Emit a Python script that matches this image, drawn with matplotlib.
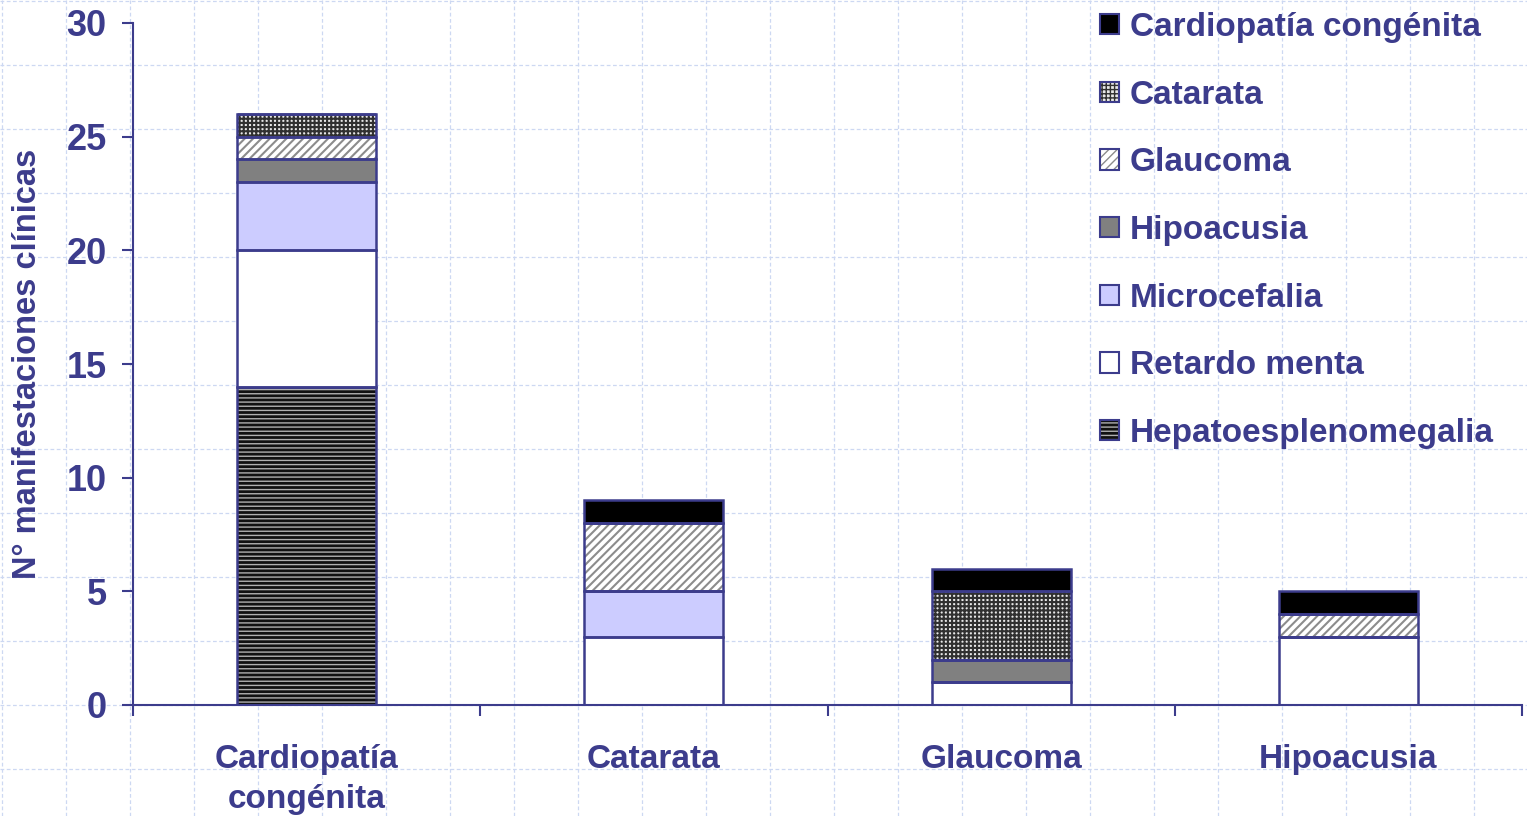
import numpy as np
import matplotlib
matplotlib.use("Agg")
import matplotlib.pyplot as plt
from matplotlib.legend_handler import HandlerTuple

# Data: each bar is a clinical manifestation, stacked by associated manifestations
categories = ["Cardiopatía\ncongénita", "Catarata", "Glaucoma", "Hipoacusia"]
series_names = ["Hepatoesplenomegalia", "Retardo menta", "Microcefalia",
                "Hipoacusia", "Glaucoma", "Catarata", "Cardiopatía congénita"]
hepatoesplenomegalia = [14, 0, 0, 0]
retardo_menta = [6, 3, 1, 3]
microcefalia = [3, 2, 0, 0]
hipoacusia = [1, 0, 1, 0]
glaucoma = [1, 3, 0, 1]
catarata = [1, 0, 3, 0]
cardiopatia = [0, 1, 1, 1]
y_ticks = [0, 5, 10, 15, 20, 25, 30]

series_values = [hepatoesplenomegalia, retardo_menta, microcefalia,
                 hipoacusia, glaucoma, catarata, cardiopatia]

# (facecolor, hatch, hatch colour, hatch linewidth)
styles = [
    ("#111111", "----", "#b0b0b0", 1.0),
    ("#ffffff", None, None, 1.0),
    ("#ccccff", None, None, 1.0),
    ("#808080", None, None, 1.0),
    ("#ffffff", "////", "#8c8c8c", 1.5),
    ("#e8e8e8", "++++", "#303030", 1.5),
    ("#000000", None, None, 1.0),
]

navy = "#3c3c8c"
plt.rcParams['font.family'] = ['Liberation Sans', 'DejaVu Sans']
plt.rcParams['font.weight'] = 'bold'

W, H = 1527, 816
fig = plt.figure(figsize=(W / 100, H / 100), dpi=100)
fig.patch.set_facecolor("white")

# slide background grid
bg = fig.add_axes([0, 0, 1, 1], zorder=-1)
bg.set_xlim(0, W)
bg.set_ylim(H, 0)
bg.axis("off")
for gx in np.arange(2, W, 64):
    bg.axvline(gx, color="#cdd8f2", lw=0.9, ls=(0, (3, 2)))
for gy in np.arange(1, H, 64):
    bg.axhline(gy, color="#cdd8f2", lw=0.9, ls=(0, (3, 2)))

ax = fig.add_axes([133 / W, 1 - 705 / H, (1522 - 133) / W, (705 - 23) / H])
ax.set_facecolor("none")


def set_hlw(patch, lw):
    if hasattr(patch, "set_hatch_linewidth"):
        patch.set_hatch_linewidth(lw)


x = np.arange(len(categories))
width = 0.40
bottom = np.zeros(len(categories))
handles = []
for name, vals, (fc, hatch, hc, hlw) in zip(series_names, series_values, styles):
    vals = np.array(vals, dtype=float)
    with plt.rc_context({'hatch.linewidth': hlw}):
        if hatch:
            bars = ax.bar(x, vals, width, bottom=bottom, color=fc, hatch=hatch,
                          edgecolor=hc, linewidth=0, zorder=2)
            fill = plt.Rectangle((0, 0), 1, 1, facecolor=fc, hatch=hatch,
                                 edgecolor=hc, linewidth=0)
        else:
            bars = ax.bar(x, vals, width, bottom=bottom, color=fc, linewidth=0,
                          zorder=2)
            fill = plt.Rectangle((0, 0), 1, 1, facecolor=fc, linewidth=0)
    for p in list(bars) + [fill]:
        set_hlw(p, hlw)
    ax.bar(x, vals, width, bottom=bottom, fill=False, edgecolor=navy,
           linewidth=1.8, zorder=3)
    outline = plt.Rectangle((0, 0), 1, 1, fill=False, edgecolor=navy,
                            linewidth=1.5)
    handles.append(((fill, outline), name))
    bottom += vals

ax.set_xlim(-0.5, len(categories) - 0.5)
ax.set_ylim(0, 30)
ax.set_yticks(y_ticks)
ax.set_xticks(x)
ax.set_xticklabels(categories, fontsize=24, color=navy, fontweight='bold',
                   linespacing=1.36)
ax.set_xticks(np.arange(-0.5, len(categories)), minor=True)
ax.tick_params(axis='x', which='major', length=0, pad=28)
ax.tick_params(axis='x', which='minor', length=8, width=1.5, color=navy,
               direction='out')
ax.tick_params(axis='y', length=8, width=1.5, color=navy, labelsize=26,
               labelcolor=navy, pad=11)
for lab in ax.get_yticklabels():
    lab.set_fontweight('bold')

for side in ["top", "right"]:
    ax.spines[side].set_visible(False)
for side in ["left", "bottom"]:
    ax.spines[side].set_color(navy)
    ax.spines[side].set_linewidth(1.5)

ax.set_ylabel("N° manifestaciones clínicas", fontsize=23.5, color=navy,
              fontweight='bold', labelpad=17)

# legend, reversed so the top segment is listed first
hs = [h for h, n in handles][::-1]
ns = [n for h, n in handles][::-1]
leg = fig.legend(hs, ns, loc='upper left', bbox_to_anchor=(1100 / W, 1 - 12 / H),
                 frameon=False, fontsize=24, handlelength=0.57, handleheight=0.57,
                 handletextpad=0.33, labelspacing=1.10, borderaxespad=0,
                 borderpad=0, handler_map={tuple: HandlerTuple(ndivide=1, pad=0)})
for t in leg.get_texts():
    t.set_color(navy)
    t.set_fontweight('bold')

plt.savefig("out.png", dpi=100, facecolor=fig.get_facecolor())
plt.close()
